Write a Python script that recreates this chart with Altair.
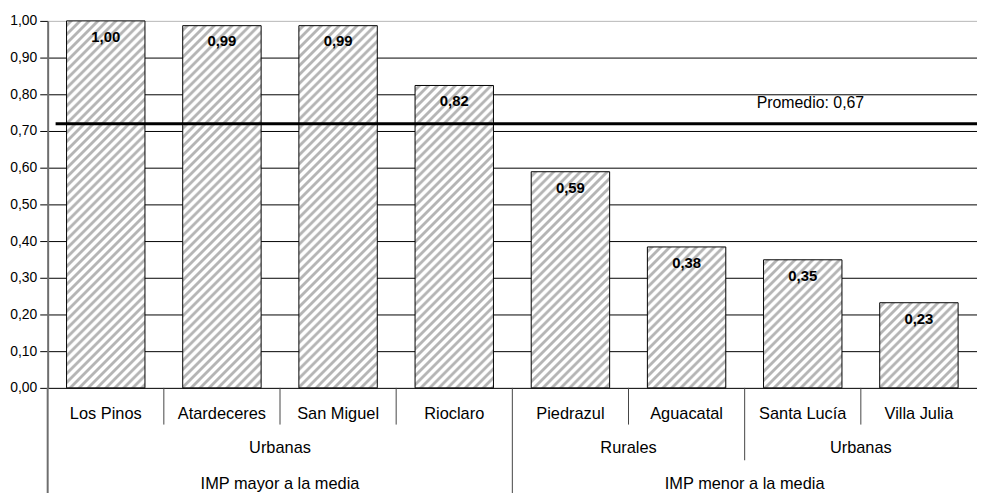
import math
import altair as alt
import pandas as pd

# ---- data ----
comunidades = ["Los Pinos", "Atardeceres", "San Miguel", "Rioclaro",
               "Piedrazul", "Aguacatal", "Santa Lucía", "Villa Julia"]
valores = [1.00, 0.987, 0.987, 0.824, 0.589, 0.384, 0.349, 0.232]
tipo = ["Urbanas", "Urbanas", "Urbanas", "Urbanas",
        "Rurales", "Rurales", "Urbanas", "Urbanas"]
imp = ["IMP mayor a la media"] * 4 + ["IMP menor a la media"] * 4
y_ticks = [0.0, 0.1, 0.2, 0.3, 0.4, 0.5, 0.6, 0.7, 0.8, 0.9, 1.0]
promedio_linea = [0.72]
promedio_texto = ["Promedio: 0,67"]

# ---- layout / style ----
W, H = 937, 370
BAR_BAND = 0.675
FONT = "Liberation Sans"
STEP = W / len(comunidades)

df = pd.DataFrame({"nombre": comunidades, "valor": valores})

# group labels (levels 2 and 3) centred on their runs of categories
def runs(keys):
    out = []
    start = 0
    for i in range(1, len(keys) + 1):
        if i == len(keys) or keys[i] != keys[start]:
            out.append((start, i))
            start = i
    return out

lvl2_keys = list(zip(imp, tipo))
grp_rows = []
for a, b in runs(lvl2_keys):
    grp_rows.append({"texto": tipo[a], "cat": comunidades[(a + b) // 2], "nivel": 2})
for a, b in runs(imp):
    grp_rows.append({"texto": imp[a], "cat": comunidades[(a + b) // 2], "nivel": 3})
grp_df = pd.DataFrame(grp_rows)

sep_rows = []
for i in range(1, len(comunidades)):
    if imp[i] != imp[i - 1]:
        lvl = 3
    elif tipo[i] != tipo[i - 1]:
        lvl = 2
    else:
        lvl = 1
    sep_rows.append({"cat": comunidades[i], "nivel": lvl})
sep_df = pd.DataFrame(sep_rows)
edge_df = pd.DataFrame({"cat": [comunidades[0]]})

prom_df = pd.DataFrame({"valor": promedio_linea, "texto": promedio_texto,
                        "cat": ["Santa Lucía"]})

xscale = alt.Scale(domain=comunidades, paddingInner=0, paddingOuter=0)
yscale = alt.Scale(domain=[0, 1], nice=False, zero=True)
yaxis = alt.Axis(
    values=y_ticks, title=None,
    labelExpr="replace(format(datum.value, '.2f'), '.', ',')",
    labelFont=FONT, labelFontSize=14, labelColor="#000", labelPadding=3,
    tickSize=8, tickColor="#000", tickWidth=1,
    domainColor="#6e6e6e", domainWidth=2,
    grid=True, gridWidth=1,
    gridColor={"condition": {"test": "datum.value >= 0.995", "value": "#bdbdbd"},
               "value": "#000000"},
)

def X(field="nombre", band=None):
    if band is None:
        return alt.X(f"{field}:N", scale=xscale, axis=None)
    return alt.X(f"{field}:N", scale=xscale, axis=None, bandPosition=band)

def Y():
    return alt.Y("valor:Q", scale=yscale, axis=yaxis)

def stripes(w, h, period=9.0, gray="#b5b5b5", white="#ffffff"):
    n = (w + h) / period
    k = (w + h) / (w * w + h * h)
    stops = []
    for j in range(int(math.ceil(n)) + 1):
        for frac, col in [(0.0, white), (0.2, white), (0.4, gray),
                          (0.65, gray), (0.85, white)]:
            off = (j + frac) / n
            if off <= 1:
                stops.append({"offset": round(off, 5), "color": col})
    return {"gradient": "linear", "x1": 0, "y1": 0,
            "x2": k * w, "y2": k * h, "stops": stops}

base = alt.Chart(df)
bar_w = BAR_BAND * STEP
bar_layers = []
for name, v in zip(comunidades, valores):
    bar_layers.append(
        base.transform_filter(alt.datum.nombre == name)
        .mark_bar(width=alt.RelativeBandSize(BAR_BAND),
                  fill=stripes(bar_w, v * H), stroke="#000", strokeWidth=1)
        .encode(x=X(), y=Y())
    )

bar_labels = base.transform_calculate(
    lbl="replace(format(datum.valor, '.2f'), '.', ',')"
).mark_text(font=FONT, fontSize=15, fontWeight="bold", color="#000",
            baseline="middle", dy=16).encode(x=X(), y=Y(), text="lbl:N")

prom_rule = alt.Chart(prom_df).mark_rule(color="#000", strokeWidth=3).encode(
    y=Y(), x=alt.value(8), x2=alt.value(W))
prom_text = alt.Chart(prom_df).mark_text(
    font=FONT, fontSize=16, color="#000", baseline="alphabetic", dy=-16
).encode(x=X("cat", 0.566), y=Y(), text="texto:N")

cat_text = base.mark_text(font=FONT, fontSize=16.5, color="#000",
                          baseline="alphabetic").encode(
    x=X(), y=alt.value(401), text="nombre:N")

grp_base = alt.Chart(grp_df)
lvl2_text = grp_base.transform_filter(alt.datum.nivel == 2).mark_text(
    font=FONT, fontSize=16.5, color="#000", baseline="alphabetic").encode(
    x=X("cat", 0), y=alt.value(436), text="texto:N")
lvl3_text = grp_base.transform_filter(alt.datum.nivel == 3).mark_text(
    font=FONT, fontSize=16.5, color="#000", baseline="alphabetic").encode(
    x=X("cat", 0), y=alt.value(472), text="texto:N")

sep_base = alt.Chart(sep_df)
sep_lengths = {1: 407, 2: 443, 3: 490}
sep_layers = []
for lvl, y_end in sep_lengths.items():
    sep_layers.append(
        sep_base.transform_filter(alt.datum.nivel == lvl)
        .mark_rule(color="#444", strokeWidth=1)
        .encode(x=X("cat", 0), y=alt.value(H), y2=alt.value(y_end))
    )
edge_rule = alt.Chart(edge_df).mark_rule(color="#6e6e6e", strokeWidth=2).encode(
    x=X("cat", 0), y=alt.value(H), y2=alt.value(490))

chart = alt.layer(
    *bar_layers, *sep_layers, edge_rule, prom_rule, bar_labels, prom_text,
    cat_text, lvl2_text, lvl3_text
).properties(
    width=W, height=H, autosize="none",
    padding={"left": 40, "top": 11, "right": 0, "bottom": 104},
).configure_view(strokeWidth=0).configure(background="#ffffff")

chart.save("out.html", embed_options={"renderer": "svg", "actions": False})
